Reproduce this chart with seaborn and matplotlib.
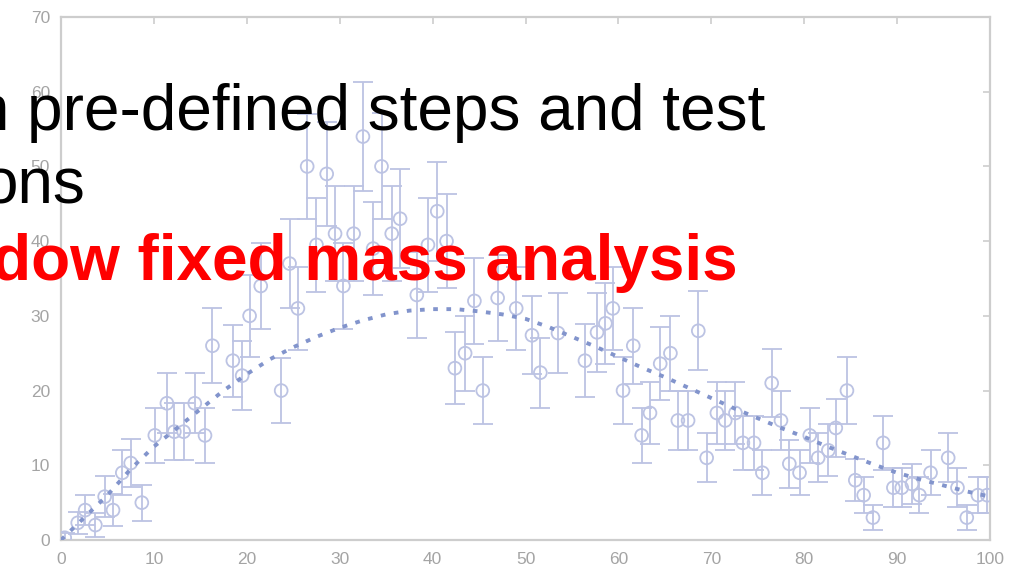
import matplotlib
matplotlib.use("Agg")
import matplotlib.pyplot as plt
import seaborn as sns
import pandas as pd

# Measured counts with their uncertainties
x_vals = [0.4, 1.8, 2.6, 3.7, 4.7, 5.6, 6.6, 7.5, 8.7, 10.1,
          11.4, 12.2, 13.2, 14.4, 15.5, 16.3, 18.5, 19.5, 20.3, 21.5,
          23.7, 24.6, 25.5, 26.5, 27.5, 28.6, 29.5, 30.4, 31.5, 32.5,
          33.6, 34.5, 35.6, 36.5, 38.3, 39.5, 40.5, 41.5, 42.4, 43.5,
          44.5, 45.4, 47.0, 49.0, 50.7, 51.6, 53.5, 56.4, 57.7, 58.6,
          59.4, 60.5, 61.6, 62.5, 63.4, 64.5, 65.6, 66.4, 67.5, 68.6,
          69.5, 70.6, 71.5, 72.6, 73.4, 74.6, 75.5, 76.5, 77.5, 78.4,
          79.5, 80.6, 81.5, 82.6, 83.4, 84.6, 85.5, 86.4, 87.4, 88.5,
          89.6, 90.5, 91.6, 92.4, 93.6, 95.5, 96.5, 97.5, 98.7, 99.7]
y_vals = [0.3, 2.3, 4.0, 2.0, 5.8, 4.0, 9.0, 10.3, 5.0, 14.0,
          18.3, 14.5, 14.5, 18.3, 14.0, 26.0, 24.0, 22.0, 30.0, 34.0,
          20.0, 37.0, 31.0, 50.0, 39.5, 49.0, 41.0, 34.0, 41.0, 54.0,
          39.0, 50.0, 41.0, 43.0, 32.8, 39.5, 44.0, 40.0, 23.0, 25.0,
          32.0, 20.0, 32.4, 31.0, 27.4, 22.4, 27.7, 24.0, 27.8, 29.0,
          31.0, 20.0, 26.0, 14.0, 17.0, 23.6, 25.0, 16.0, 16.0, 28.0,
          11.0, 17.0, 16.0, 17.0, 13.0, 13.0, 9.0, 21.0, 16.0, 10.2,
          9.0, 14.0, 11.0, 12.0, 15.0, 20.0, 8.0, 6.0, 3.0, 13.0,
          7.0, 7.0, 7.5, 6.0, 9.0, 11.0, 7.0, 3.0, 6.0, 6.0]
y_err = [0.6, 1.5, 2.0, 1.6, 2.7, 2.1, 3.0, 3.2, 2.4, 3.7,
         4.0, 3.8, 3.8, 4.0, 3.7, 5.0, 4.8, 4.6, 5.5, 5.8,
         4.4, 6.0, 5.6, 7.0, 6.3, 7.0, 6.4, 5.8, 6.4, 7.3,
         6.2, 7.1, 6.4, 6.6, 5.7, 6.3, 6.6, 6.3, 4.8, 5.0,
         5.7, 4.5, 5.7, 5.6, 5.2, 4.7, 5.3, 4.9, 5.3, 5.4,
         5.6, 4.5, 5.1, 3.7, 4.1, 4.9, 5.0, 4.0, 4.0, 5.3,
         3.3, 4.1, 4.0, 4.1, 3.6, 3.6, 3.0, 4.6, 4.0, 3.2,
         3.0, 3.7, 3.3, 3.5, 3.9, 4.5, 2.8, 2.4, 1.7, 3.6,
         2.6, 2.6, 2.7, 2.4, 3.0, 3.3, 2.6, 1.7, 2.4, 2.4]

# Fitted model curve
fit_x = [0, 2.5, 5, 7.5, 10, 12.5, 15, 17.5, 20, 22.5, 25, 27.5, 30,
         32.5, 35, 37.5, 40, 42.5, 45, 47.5, 50, 52.5, 55, 57.5, 60,
         62.5, 65, 67.5, 70, 72.5, 75, 77.5, 80, 82.5, 85, 87.5, 90,
         92.5, 95, 97.5, 100]
fit_y = [0, 3.0, 6.0, 9.5, 12.5, 15.0, 17.5, 20.0, 22.2, 24.2, 25.8, 27.2, 28.4,
         29.4, 30.2, 30.7, 30.9, 30.9, 30.6, 30.2, 29.6, 28.5, 27.2, 25.9, 24.5,
         23.1, 21.8, 20.4, 19.0, 17.6, 16.3, 15.0, 13.8, 12.5, 11.3, 10.1, 9.0,
         8.1, 7.3, 6.5, 5.8]

x_ticks = [0, 10, 20, 30, 40, 50, 60, 70, 80, 90, 100]
y_ticks = [0, 10, 20, 30, 40, 50, 60, 70]

line1 = "n pre-defined steps and test"
line2 = "ons"
line3 = "dow fixed mass analysis"

sns.set_theme(style="white")
plt.rcParams["font.family"] = ["Liberation Sans", "DejaVu Sans"]

data = pd.DataFrame({"x": x_vals, "y": y_vals, "err": y_err})
fit = pd.DataFrame({"x": fit_x, "y": fit_y})

point_color = "#bcc3e3"
fit_color = "#8294cc"
frame_color = "#cdcdcd"

fig = plt.figure(figsize=(10.09, 5.83), dpi=100)
ax = fig.add_axes([61 / 1009, 43 / 583, 929 / 1009, 523 / 583])

ax.errorbar(data["x"], data["y"], yerr=data["err"], fmt="none",
            ecolor=point_color, elinewidth=1.3, capsize=7, capthick=1.3, zorder=2)
sns.scatterplot(data=data, x="x", y="y", ax=ax, marker="o", s=85,
                facecolor="none", edgecolor=point_color, linewidth=1.3, zorder=3)
sns.lineplot(data=fit, x="x", y="y", ax=ax, color=fit_color, linewidth=2.8,
             linestyle=(0, (1.2, 2.2)), zorder=4)

ax.set_xlim(0, 100)
ax.set_ylim(0, 70)
ax.set_xticks(x_ticks)
ax.set_yticks(y_ticks)
ax.set_xlabel("")
ax.set_ylabel("")
ax.tick_params(axis="both", direction="in", length=5, width=1.2, color=frame_color,
               labelcolor="#a4a4a4", labelsize=12.5, top=True, right=True, pad=8)
ax.tick_params(axis="x", pad=9)
for side in ax.spines.values():
    side.set_color(frame_color)
    side.set_linewidth(1.6)

fig.text(765 / 1009, 1 - 130 / 583, line1, ha="right", va="baseline",
         fontsize=46, color="black")
fig.text(85 / 1009, 1 - 204 / 583, line2, ha="right", va="baseline",
         fontsize=46, color="black")
fig.text(738 / 1009, 1 - 280 / 583, line3, ha="right", va="baseline",
         fontsize=46, color="#ff0000", fontweight="bold")

fig.savefig("out.png", dpi=100)
